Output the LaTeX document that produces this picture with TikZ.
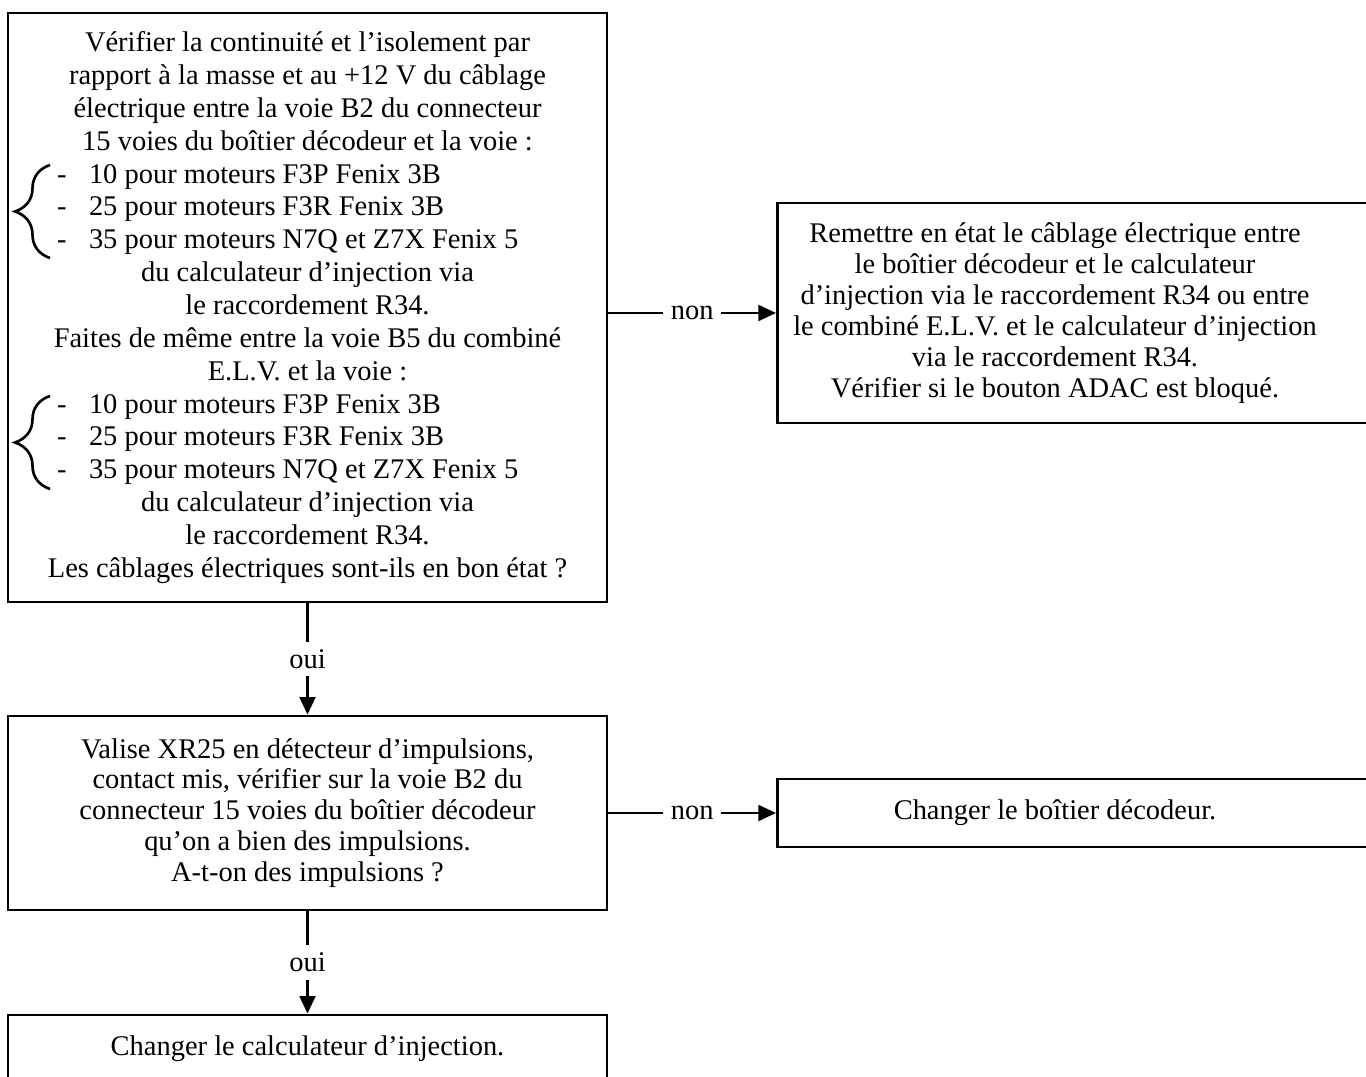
\documentclass[tikz,border=0pt]{standalone}
\usepackage{fontspec}
\setmainfont{Liberation Serif}
\usetikzlibrary{arrows.meta,positioning,decorations.pathreplacing}
\tikzset{
  box/.style={draw,line width=1.6pt,inner sep=0pt},
  txt/.style={align=center,inner sep=0pt,font=\fontsize{16.2}{17.6}\selectfont},
  longtxt/.style={align=center,inner sep=0pt,font=\fontsize{16.2}{18.7}\selectfont},
  link/.style={-{Triangle[length=10pt,width=9pt]},line width=1.4pt},
  lbl/.style={fill=white,inner sep=4.5pt,font=\fontsize{16.2}{18}\selectfont},
  brc/.style={decorate,decoration={brace,amplitude=0.7cm},line width=1.5pt}
}
\newcommand{\tiret}[1]{\makebox[10.02cm][l]{-\hspace{0.45cm}#1}}

\begin{document}
\begin{tikzpicture}[x=0.02cm,y=-0.02cm]
\useasboundingbox (0,0) rectangle (1366,1077);
\clip (0,0) rectangle (1366,1077);

% left column
\node[box,longtxt,minimum width=11.98cm,minimum height=11.78cm] (chk) at (307.5,307.5)
  {V\'erifier la continuit\'e et l’isolement par\\
   rapport \`a la masse et au +12 V du c\^ablage\\
   \'electrique entre la voie B2 du connecteur\\
   15 voies du bo\^itier d\'ecodeur et la voie :\\
   \tiret{10 pour moteurs F3P Fenix 3B}\\
   \tiret{25 pour moteurs F3R Fenix 3B}\\
   \tiret{35 pour moteurs N7Q et Z7X Fenix 5}\\
   du calculateur d’injection via\\
   le raccordement R34.\\
   Faites de m\^eme entre la voie B5 du combin\'e\\
   E.L.V. et la voie :\\
   \tiret{10 pour moteurs F3P Fenix 3B}\\
   \tiret{25 pour moteurs F3R Fenix 3B}\\
   \tiret{35 pour moteurs N7Q et Z7X Fenix 5}\\
   du calculateur d’injection via\\
   le raccordement R34.\\
   Les c\^ablages \'electriques sont-ils en bon \'etat ?};
\node[box,txt,minimum width=11.98cm,minimum height=3.88cm] (imp) at (307.5,813)
  {Valise XR25 en d\'etecteur d’impulsions,\\
   contact mis, v\'erifier sur la voie B2 du\\
   connecteur 15 voies du bo\^itier d\'ecodeur\\
   qu’on a bien des impulsions.\\
   A-t-on des impulsions ?};
\node[box,txt,minimum width=11.98cm,minimum height=1.36cm] (calc) at (307.5,1049)
  {Changer le calculateur d’injection.};

% braces in front of the lists
\draw[brc] (50,258) -- (50,165);
\draw[brc] (50,489) -- (50,396);

% right column
\node[box,minimum width=12.6cm,minimum height=4.4cm,anchor=west] (fix) at (776,313) {};
\node[txt] (fixtxt) at (1055,313)
  {Remettre en \'etat le c\^ablage \'electrique entre\\
   le bo\^itier d\'ecodeur et le calculateur\\
   d’injection via le raccordement R34 ou entre\\
   le combin\'e E.L.V. et le calculateur d’injection\\
   via le raccordement R34.\\
   V\'erifier si le bouton ADAC est bloqu\'e.};
\node[box,minimum width=12.6cm,minimum height=1.36cm,anchor=west] (dec) at (776,813) {};
\node[txt] (dectxt) at (1055,813) {Changer le bo\^itier d\'ecodeur.};

% links
\draw[link] (chk.east |- fix.west) -- node[lbl]{non} (fix.west);
\draw[link] (chk.south) -- node[lbl]{oui} (imp.north);
\draw[link] (imp.east) -- node[lbl]{non} (dec.west);
\draw[link] (imp.south) -- node[lbl]{oui} (calc.north);
\end{tikzpicture}
\end{document}
